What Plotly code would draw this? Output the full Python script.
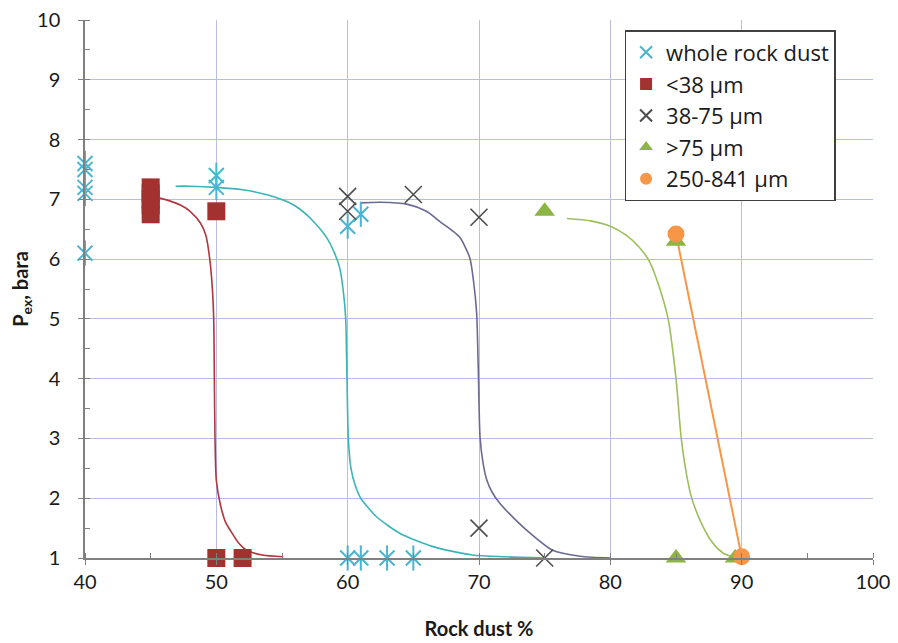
import plotly.graph_objects as go

# ---- measured points ----
whole_x = [40, 40, 40, 40, 40, 50, 50, 60, 61, 60, 61, 63, 65]
whole_y = [7.6, 7.5, 7.2, 7.1, 6.1, 7.4, 7.2, 6.55, 6.75, 1.0, 1.0, 1.0, 1.0]

fine_x = [45, 45, 45, 45, 45, 50, 50, 52]
fine_y = [7.2, 7.1, 7.0, 6.9, 6.75, 6.8, 1.0, 1.0]

mid_x = [60, 60, 65, 70, 70, 75]
mid_y = [7.05, 6.8, 7.08, 6.7, 1.5, 1.0]

coarse_x = [75, 85, 85, 89.5]
coarse_y = [6.8, 6.3, 1.0, 1.0]

big_x = [85, 90]
big_y = [6.42, 1.02]

# ---- fitted trend curves ----
fine_fit_x = [45.7, 46.5, 47.3, 48.0, 48.8, 49.2, 49.5, 49.7, 49.8, 49.85, 49.9, 50.0, 50.3, 50.7, 51.1, 51.7, 52.3, 53.5, 55.1]
fine_fit_y = [7.02, 6.97, 6.9, 6.8, 6.6, 6.4, 6.0, 5.5, 5.0, 4.0, 3.0, 2.3, 1.9, 1.6, 1.45, 1.25, 1.13, 1.05, 1.02]

whole_fit_x = [46.9, 48.0, 50.0, 52.0, 54.0, 55.5, 56.4, 57.4, 58.4, 59.0, 59.4, 59.7, 59.85, 59.95, 60.05, 60.25, 60.6, 61.0, 62.2, 64.0, 66.5, 69.5, 72.0, 75.0]
whole_fit_y = [7.22, 7.22, 7.2, 7.16, 7.07, 6.95, 6.83, 6.63, 6.36, 6.1, 5.85, 5.4, 5.0, 4.0, 3.0, 2.5, 2.2, 2.0, 1.69, 1.41, 1.19, 1.05, 1.02, 1.0]

mid_fit_x = [60.95, 62.5, 64.5, 66.0, 67.0, 68.0, 68.55, 69.3, 69.6, 69.82, 69.95, 70.08, 70.3, 70.6, 71.0, 71.6, 72.5, 73.6, 75.6, 77.7, 80.0]
mid_fit_y = [6.94, 6.95, 6.92, 6.8, 6.63, 6.47, 6.36, 6.02, 5.6, 5.1, 4.13, 3.02, 2.6, 2.3, 2.1, 1.91, 1.7, 1.47, 1.13, 1.03, 1.0]

coarse_fit_x = [76.7, 78.5, 80.0, 81.2, 82.2, 83.0, 83.7, 84.4, 85.0, 85.4, 85.8, 86.2, 87.0, 87.8, 88.6, 89.3]
coarse_fit_y = [6.68, 6.64, 6.55, 6.4, 6.2, 5.95, 5.55, 5.0, 4.0, 3.0, 2.4, 2.0, 1.55, 1.25, 1.08, 1.02]

x_ticks = [40, 50, 60, 70, 80, 90, 100]
y_ticks = [1, 2, 3, 4, 5, 6, 7, 8, 9, 10]

C_WHOLE = "#4bb4d0"
C_WHOLE_FIT = "#3db3b8"
C_FINE = "#a3312f"
C_FINE_FIT = "#b0363e"
C_MID = "#4d4d4d"
C_MID_FIT = "#6b6a96"
C_COARSE = "#8cb543"
C_COARSE_FIT = "#9cbf5c"
C_BIG = "#f79646"

fig = go.Figure()

# trend curves
for fx, fy, col in [(fine_fit_x, fine_fit_y, C_FINE_FIT),
                    (whole_fit_x, whole_fit_y, C_WHOLE_FIT),
                    (mid_fit_x, mid_fit_y, C_MID_FIT),
                    (coarse_fit_x, coarse_fit_y, C_COARSE_FIT)]:
    fig.add_trace(go.Scatter(x=fx, y=fy, mode="lines",
                             line=dict(color=col, width=1.6, shape="spline", smoothing=0.7),
                             showlegend=False, hoverinfo="skip"))

# orange connecting line
fig.add_trace(go.Scatter(x=big_x, y=big_y, mode="lines", line=dict(color=C_BIG, width=2),
                         showlegend=False, hoverinfo="skip"))

# whole rock dust (x + vertical line = 6-arm star)
fig.add_trace(go.Scatter(x=whole_x, y=whole_y, mode="markers", name="whole rock dust",
                         legendgroup="w", cliponaxis=False,
                         marker=dict(symbol="x-thin-open", size=15, color=C_WHOLE,
                                     line=dict(color=C_WHOLE, width=2))))
fig.add_trace(go.Scatter(x=whole_x, y=whole_y, mode="markers", name="whole rock dust",
                         legendgroup="w", showlegend=False, cliponaxis=False,
                         marker=dict(symbol="line-ns-open", size=18, color=C_WHOLE,
                                     line=dict(color=C_WHOLE, width=2))))

fig.add_trace(go.Scatter(x=fine_x, y=fine_y, mode="markers", name="<38 µm", cliponaxis=False,
                         marker=dict(symbol="square", size=18, color=C_FINE)))

fig.add_trace(go.Scatter(x=mid_x, y=mid_y, mode="markers", name="38-75 µm", cliponaxis=False,
                         marker=dict(symbol="x-thin-open", size=17, color=C_MID,
                                     line=dict(color=C_MID, width=1.6))))

fig.add_trace(go.Scatter(x=coarse_x, y=coarse_y, mode="markers", name=">75 µm", cliponaxis=False,
                         marker=dict(symbol="triangle-up", size=18, color=C_COARSE)))

fig.add_trace(go.Scatter(x=big_x, y=big_y, mode="markers", name="250-841 µm", cliponaxis=False,
                         marker=dict(symbol="circle", size=17, color=C_BIG)))

grid_col = "#b9bde3"
fig.update_layout(
    width=898, height=643,
    margin=dict(l=76.5, r=32.5, t=12, b=93),
    paper_bgcolor="white", plot_bgcolor="white",
    font=dict(family="Lato, Open Sans, sans-serif", size=20, color="#1a1a1a"),
    showlegend=True,
    legend=dict(x=0.685, y=0.981, xanchor="left", yanchor="top",
                bgcolor="white", bordercolor="#404040", borderwidth=1.3,
                font=dict(family="Open Sans, Lato, sans-serif", size=22, color="#1a1a1a"),
                itemsizing="constant", tracegroupgap=0),
)
fig.update_xaxes(range=[40, 100], tickvals=x_ticks, ticktext=[str(v) for v in x_ticks],
                 automargin=False, ticklabeloverflow="allow",
                 showgrid=True, gridcolor=grid_col, gridwidth=1.2,
                 showline=True, linecolor="#808080", linewidth=1.5,
                 ticks="outside", ticklen=5, tickcolor="#808080",
                 minor=dict(dtick=5, ticks="inside", ticklen=5, tickcolor="#808080", showgrid=False),
                 zeroline=False,
                 title=dict(text="<b>Rock dust %</b>", font=dict(size=20), standoff=30))
fig.update_yaxes(range=[1, 10], tickvals=y_ticks, ticktext=[str(v) for v in y_ticks],
                 automargin=False, ticklabelstandoff=14, ticklabeloverflow="allow",
                 showgrid=True, gridcolor=grid_col, gridwidth=1.2,
                 showline=True, linecolor="#808080", linewidth=1.5,
                 ticks="outside", ticklen=5, tickcolor="#808080",
                 minor=dict(dtick=0.5, ticks="inside", ticklen=5, tickcolor="#808080", showgrid=False),
                 zeroline=False,
                 title=dict(text="<b>P<sub>ex</sub>, bara</b>", font=dict(size=20), standoff=8))

fig.write_html("out.html")
